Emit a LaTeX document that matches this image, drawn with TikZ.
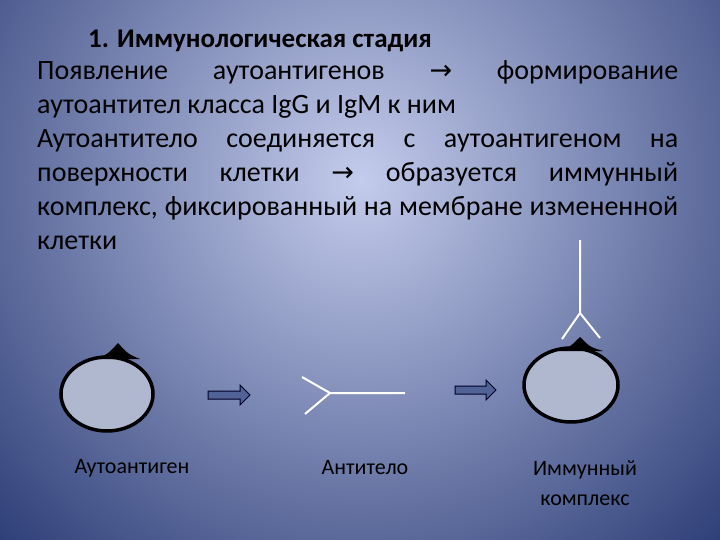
\documentclass[tikz,border=0pt]{standalone}
\usepackage{fontspec}
\setmainfont{Carlito}
\newfontfamily\symf{DejaVu Sans}
\definecolor{bgin}{RGB}{196,204,236}
\definecolor{bgout}{RGB}{26,44,104}
\definecolor{cellfill}{RGB}{176,184,208}
\definecolor{arrfill}{RGB}{80,98,150}
\newcommand{\ar}{{\symf\fontsize{27}{24}\selectfont →}}
\begin{document}
\begin{tikzpicture}[x=1pt,y=-1pt,
  cell/.style={draw=black,line width=3.5pt,fill=cellfill},
  ab/.style={draw=white,line width=2pt},
  lbl/.style={font=\fontsize{22}{30}\selectfont,align=center,inner sep=0},
  harrow/.style={draw=black!85!blue,line width=1pt,fill=arrfill}]
\useasboundingbox (0,0) rectangle (720,540);
\begin{scope}
\clip (0,0) rectangle (720,540);
\fill[bgout] (0,0) rectangle (720,540);
\shade[inner color=bgin,outer color=bgout] (360,180) circle (580);
\end{scope}
\node[font=\bfseries\fontsize{27}{30}\selectfont,anchor=base west,inner sep=0] (title) at (88,48) {1. Иммунологическая стадия};
\node[font=\fontsize{28}{34}\selectfont,anchor=base west,inner sep=0,text width=641pt,align=justify] (body) at (37,80)
{Появление аутоантигенов \ar{} формирование\linebreak аутоантител класса IgG и IgM к ним\\
Аутоантитело соединяется с аутоантигеном на\linebreak поверхности клетки \ar{} образуется иммунный\linebreak комплекс, фиксированный на мембране измененной\linebreak клетки};
% cell 1
\draw[cell] (107,394) ellipse (46 and 37);
\fill[black] (96,359) .. controls (108,354) .. (118,343) .. controls (128,354) .. (140,359) -- cycle;
% arrows
\draw[harrow] (208,391) -- (240,391) -- (240,385) -- (250,395) -- (240,405) -- (240,399) -- (208,399) -- cycle;
\draw[harrow] (455,386) -- (486,386) -- (486,380) -- (496,390) -- (486,400) -- (486,394) -- (455,394) -- cycle;
% antibody
\coordinate (f) at (330,393);
\coordinate (a1) at (302,377);
\coordinate (a2) at (305,414);
\coordinate (s) at (405,393);
\draw[ab] (a1) -- (f) -- (a2) (f) -- (s);
% cell 2
\draw[cell] (571,385) ellipse (47 and 37);
\fill[black] (558,351) .. controls (570,347) .. (580,337) .. controls (590,347) .. (603,351) -- cycle;
\coordinate (t) at (580,240);
\coordinate (g) at (580,313);
\coordinate (b1) at (562,339);
\coordinate (b2) at (600,338);
\draw[ab] (t) -- (g) (b1) -- (g) -- (b2);
% labels
\node[lbl] (l1) at (132,468) {Аутоантиген};
\node[lbl] (l2) at (365,468) {Антитело};
\node[lbl] (l3) at (585,483) {Иммунный\\комплекс};
\end{tikzpicture}
\end{document}
